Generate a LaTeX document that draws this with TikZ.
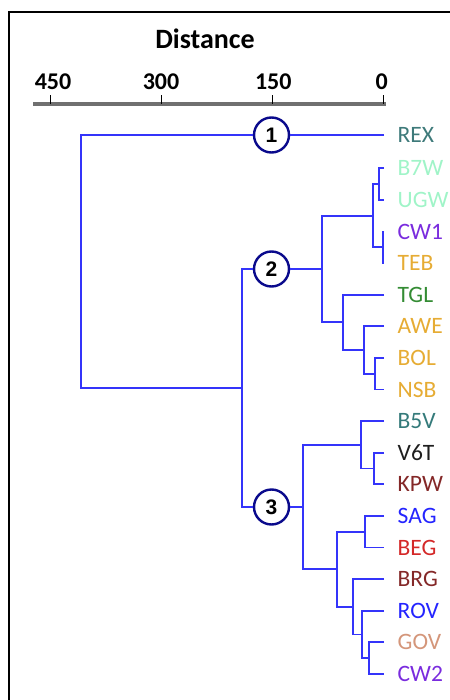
\documentclass[tikz,border=0pt]{standalone}
\usepackage{fontspec}
\setmainfont{Carlito}
\newfontfamily\numfont{Liberation Sans}
\definecolor{branch}{RGB}{52,52,250}
\definecolor{ringcol}{RGB}{10,10,140}
\definecolor{axisgray}{RGB}{112,112,112}
\definecolor{cREX}{RGB}{62,122,122}
\definecolor{cMint}{RGB}{160,244,200}
\definecolor{cPurple}{RGB}{122,44,222}
\definecolor{cGold}{RGB}{230,172,52}
\definecolor{cGreen}{RGB}{52,140,52}
\definecolor{cTeal}{RGB}{52,122,122}
\definecolor{cDark}{RGB}{30,30,30}
\definecolor{cBrown}{RGB}{132,40,40}
\definecolor{cBlue}{RGB}{36,36,255}
\definecolor{cRed}{RGB}{212,40,40}
\definecolor{cTan}{RGB}{212,150,122}
\begin{document}
\begin{tikzpicture}[x=1pt,y=-1pt,
  branchline/.style={draw=branch,line width=1.8pt},
  leaflabel/.style={anchor=west,inner sep=0pt,font=\fontsize{23.5}{25}\selectfont},
  ring/.style={circle,draw=ringcol,line width=2.4pt,fill=white,minimum size=35pt,inner sep=0pt,
    font=\numfont\bfseries\fontsize{21}{22}\selectfont},
  ticklabel/.style={anchor=base,inner sep=0pt,font=\bfseries\fontsize{24}{26}\selectfont},
  tickmark/.style={draw=black,line width=1.3pt}]
\useasboundingbox (0,0) rectangle (449,700);

% frame
\draw[line width=2pt,line cap=rect] (8.5,705) -- (8.5,12) -- (455,12);

% axis
\node[anchor=base,inner sep=0pt,font=\bfseries\fontsize{28}{30}\selectfont] (title) at (205,49) {Distance};
\draw[axisgray,line width=4pt] (33.3,104) -- (385.7,104);
\foreach \xv/\lab/\nm in {50.3/450/ta,161.7/300/tb,272.7/150/tc,383.3/0/td}{
  \coordinate (\nm) at (\xv,104);
  \draw[tickmark] (\nm) -- ++(0,-8.5);
}
\node[ticklabel] (la) at (53,90) {450};
\node[ticklabel] (lb) at (161,90) {300};
\node[ticklabel] (lc) at (273.3,90) {150};
\node[ticklabel] (ld) at (381.7,90) {0};

% leaves: end point of the branch and the label
\foreach \nm/\yv/\col in {REX/135/cREX,B7W/168.3/cMint,UGW/199.9/cMint,CW1/231.5/cPurple,
  TEB/263.1/cGold,TGL/294.7/cGreen,AWE/326.3/cGold,BOL/357.9/cGold,NSB/389.5/cGold,
  B5V/421.1/cTeal,V6T/452.7/cDark,KPW/484.3/cBrown,SAG/515.9/cBlue,BEG/547.5/cRed,
  BRG/579.1/cBrown,ROV/610.7/cBlue,GOV/642.3/cTan,CW2/673.9/cPurple}{
  \coordinate (\nm) at (384,\yv);
  \node[leaflabel,text=\col] (lab\nm) at (397.5,\yv) {\nm};
}

% internal joins
\coordinate (bu) at (378.7,184.1);
\coordinate (ct) at (382.7,247.3);
\coordinate (q4) at (372.7,215.7);
\coordinate (bn) at (375,373.7);
\coordinate (ab) at (364,350);
\coordinate (tg) at (343.3,322.35);
\coordinate (c2) at (321.7,269);
\coordinate (vk) at (374,468.5);
\coordinate (b5) at (361.3,444.8);
\coordinate (sb) at (365.3,531.7);
\coordinate (gc) at (368.7,658.1);
\coordinate (rv) at (362,634.4);
\coordinate (br) at (353.3,606.75);
\coordinate (sx) at (336.7,569.2);
\coordinate (c3) at (302.7,507);
\coordinate (c23) at (242.3,388);
\coordinate (root) at (80.7,261.5);

% branches
\draw[branchline] (B7W) -| (bu) |- (UGW);
\draw[branchline] (CW1) -| (ct) |- (TEB);
\draw[branchline] (bu) -| (q4) |- (ct);
\draw[branchline] (BOL) -| (bn) |- (NSB);
\draw[branchline] (AWE) -| (ab) |- (bn);
\draw[branchline] (TGL) -| (tg) |- (ab);
\draw[branchline] (q4) -| (c2) |- (tg);
\draw[branchline] (V6T) -| (vk) |- (KPW);
\draw[branchline] (B5V) -| (b5) |- (vk);
\draw[branchline] (SAG) -| (sb) |- (BEG);
\draw[branchline] (GOV) -| (gc) |- (CW2);
\draw[branchline] (ROV) -| (rv) |- (gc);
\draw[branchline] (BRG) -| (br) |- (rv);
\draw[branchline] (sb) -| (sx) |- (br);
\draw[branchline] (b5) -| (c3) |- (sx);

% numbered clusters
\node[ring] (n1) at (271.5,135) {1};
\node[ring] (n2) at (271.5,269) {2};
\node[ring] (n3) at (271.5,507) {3};

\draw[branchline] (REX) -- (n1);
\draw[branchline] (c2) -- (n2);
\draw[branchline] (c3) -- (n3);
\draw[branchline] (n2) -| (c23) |- (n3);
\draw[branchline] (n1) -| (root) |- (c23);
\end{tikzpicture}
\end{document}
